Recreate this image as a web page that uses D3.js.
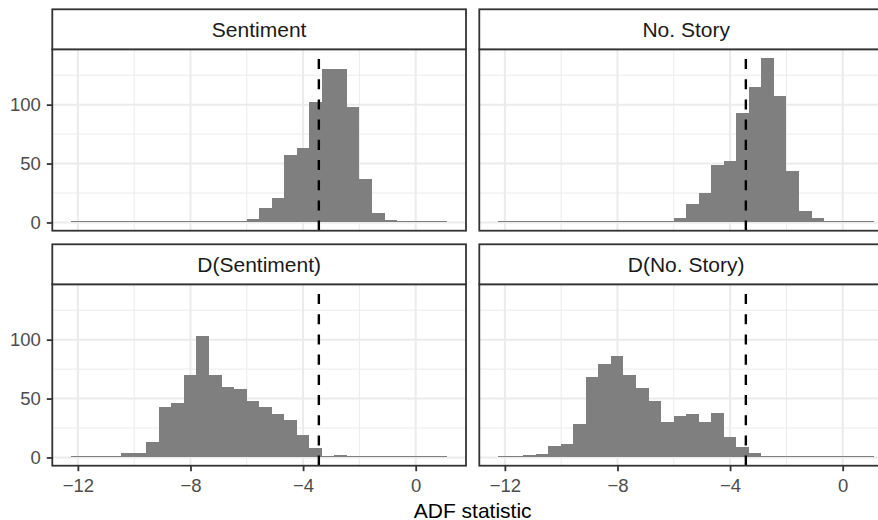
<!DOCTYPE html>
<html>
<head>
<meta charset="utf-8">
<script src="https://cdn.jsdelivr.net/npm/d3@7"></script>
<style>
  html, body { margin: 0; padding: 0; background: #fff; }
  svg { display: block; font-family: "Liberation Sans", Arial, Helvetica, sans-serif; }
</style>
</head>
<body>
<svg id="chart" width="878" height="520"></svg>
<script>
// ---- data ----
const facetNames = ["Sentiment", "No. Story", "D(Sentiment)", "D(No. Story)"];
const binStart = -12.24;
const binWidth = 0.4453;
const countsSentiment  = [0,0,0,0,0,0,0,0,0,0,0,0,0,1,3,12,21,57,63,102,130,130,98,37,8,2,0,0,0,1];
const countsNoStory    = [0,0,0,0,0,0,0,0,0,0,0,0,1,1,4,16,25,49,52,93,115,140,107,44,10,4,1,1,0,0];
const countsDSentiment = [0,1,0,1,4,4,13,43,46,70,103,70,60,58,48,43,37,32,19,8,0,2,0,0,0,0,0,0,0,0];
const countsDNoStory   = [1,0,2,3,10,11,28,68,79,86,70,59,48,30,35,37,30,38,17,9,4,1,0,0,0,0,0,0,0,0];
const criticalValue = -3.44;
const xMajorTicks = [-12, -8, -4, 0];
const xMinorTicks = [-10, -6, -2];
const yMajorTicks = [0, 50, 100];
const yMinorTicks = [25, 75, 125];
const xTitle = "ADF statistic";

const facetCounts = [countsSentiment, countsNoStory, countsDSentiment, countsDNoStory];

// ---- layout ----
const svg = d3.select("#chart");
const panelW = 413.7, panelH = 181.4, stripH = 40;
const colX = [52.3, 479.3];
const rowTop = [9.3, 244.3];

const nBins = countsSentiment.length;
const binEnd = binStart + binWidth * nBins;
const allMax = d3.max(facetCounts.flat());
const xPad = (binEnd - binStart) * 0.05;
const yPad = allMax * 0.05;

const x = d3.scaleLinear().domain([binStart - xPad, binEnd + xPad]).range([0, panelW]);
const y = d3.scaleLinear().domain([-yPad, allMax + yPad]).range([panelH, 0]);

const tickFont = 18.5, stripFont = 21, titleFont = 21;
const gridCol = "#EBEBEB", borderCol = "#333333";

facetCounts.forEach((counts, i) => {
  const col = i % 2, row = Math.floor(i / 2);
  const gx = colX[col], gy = rowTop[row] + stripH;
  const g = svg.append("g").attr("transform", `translate(${gx},${gy})`);

  // background + grid
  g.append("rect").attr("width", panelW).attr("height", panelH).attr("fill", "#fff");
  g.selectAll(".xminor").data(xMinorTicks).enter().append("line")
    .attr("x1", d => x(d)).attr("x2", d => x(d)).attr("y1", 0).attr("y2", panelH)
    .attr("stroke", gridCol).attr("stroke-width", 1);
  g.selectAll(".yminor").data(yMinorTicks).enter().append("line")
    .attr("y1", d => y(d)).attr("y2", d => y(d)).attr("x1", 0).attr("x2", panelW)
    .attr("stroke", gridCol).attr("stroke-width", 1);
  g.selectAll(".xmajor").data(xMajorTicks).enter().append("line")
    .attr("x1", d => x(d)).attr("x2", d => x(d)).attr("y1", 0).attr("y2", panelH)
    .attr("stroke", gridCol).attr("stroke-width", 2);
  g.selectAll(".ymajor").data(yMajorTicks).enter().append("line")
    .attr("y1", d => y(d)).attr("y2", d => y(d)).attr("x1", 0).attr("x2", panelW)
    .attr("stroke", gridCol).attr("stroke-width", 2);

  // bars
  g.selectAll(".bar").data(counts).enter().append("rect")
    .attr("x", (d, k) => x(binStart + k * binWidth))
    .attr("width", (d, k) => x(binStart + (k + 1) * binWidth) - x(binStart + k * binWidth))
    .attr("y", d => Math.min(y(d), y(0) - 1))
    .attr("height", d => Math.max(y(0) - y(d), 1))
    .attr("fill", "#7F7F7F")
    .attr("shape-rendering", "crispEdges");

  // critical value line (drawn from bottom to top)
  g.append("line")
    .attr("x1", x(criticalValue)).attr("x2", x(criticalValue))
    .attr("y1", panelH).attr("y2", 0)
    .attr("stroke", "#000").attr("stroke-width", 2.4)
    .attr("stroke-dasharray", "10.1,10.1");

  // panel border
  g.append("rect").attr("width", panelW).attr("height", panelH)
    .attr("fill", "none").attr("stroke", borderCol).attr("stroke-width", 1.8);

  // strip
  const s = svg.append("g").attr("transform", `translate(${gx},${rowTop[row]})`);
  s.append("rect").attr("width", panelW).attr("height", stripH)
    .attr("fill", "#fff").attr("stroke", borderCol).attr("stroke-width", 1.8);
  s.append("text").attr("x", panelW / 2).attr("y", stripH / 2)
    .attr("dy", "0.36em").attr("text-anchor", "middle")
    .attr("font-size", stripFont).attr("fill", "#1A1A1A").text(facetNames[i]);

  // axes
  if (col === 0) {
    const ay = g.append("g").call(d3.axisLeft(y).tickValues(yMajorTicks).tickSizeInner(5.5).tickSizeOuter(0).tickPadding(6));
    ay.select(".domain").remove();
    ay.selectAll("line").attr("stroke", borderCol).attr("stroke-width", 1.8);
    ay.selectAll("text").attr("font-size", tickFont).attr("fill", "#4D4D4D").attr("font-family", null);
  }
  if (row === 1) {
    const ax = g.append("g").attr("transform", `translate(0,${panelH})`)
      .call(d3.axisBottom(x).tickValues(xMajorTicks).tickSizeInner(5.5).tickSizeOuter(0).tickPadding(8)
        .tickFormat(d => d < 0 ? "\u2212" + Math.abs(d) : String(d)));
    ax.select(".domain").remove();
    ax.selectAll("line").attr("stroke", borderCol).attr("stroke-width", 1.8);
    ax.selectAll("text").attr("font-size", tickFont).attr("fill", "#4D4D4D").attr("font-family", null);
  }
});

// x axis title
svg.append("text")
  .attr("x", (colX[0] + colX[1] + panelW) / 2)
  .attr("y", 517.5)
  .attr("text-anchor", "middle")
  .attr("font-size", titleFont)
  .attr("fill", "#000")
  .text(xTitle);
</script>
</body>
</html>
